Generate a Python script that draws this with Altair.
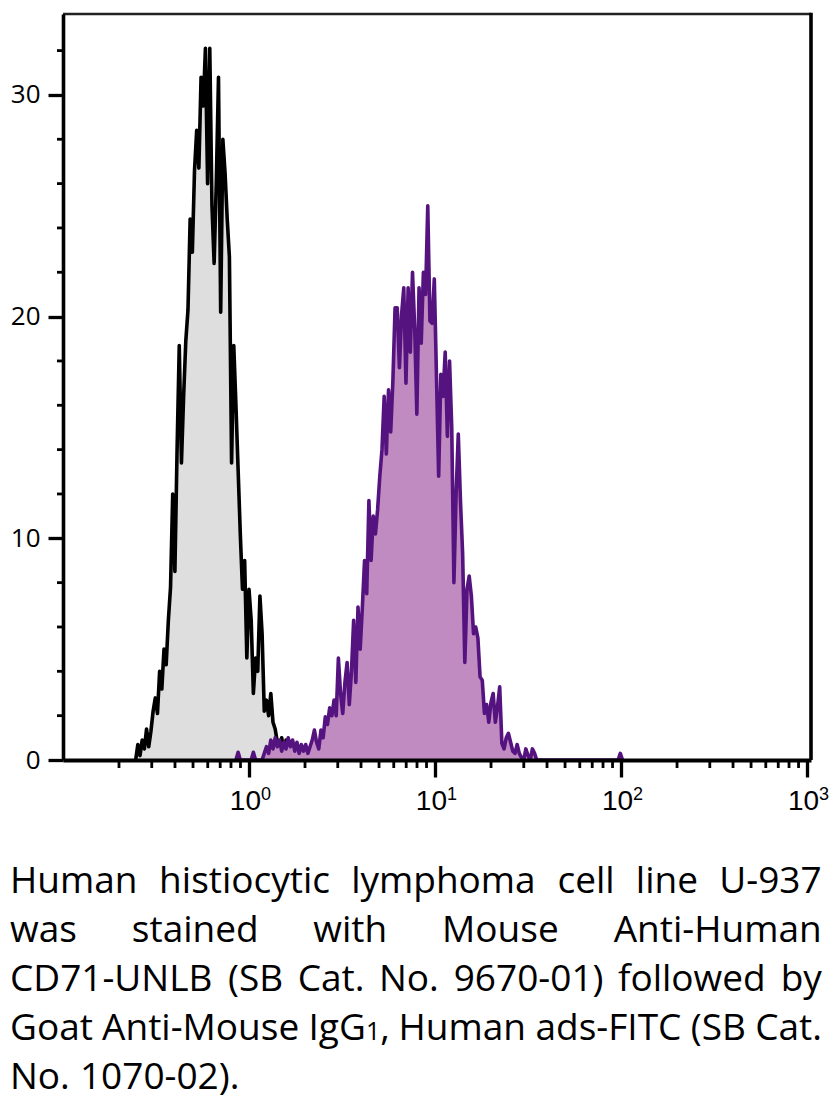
import altair as alt
import pandas as pd

# ---------------- data ----------------
CHANNELS = 1024          # instrument channels spread over 4 decades (0.1 .. 1000)

# isotype / unstained control (grey histogram), every 3rd channel from 100
gray_start, gray_step = 100, 3
gray_counts = [0, 0.7, 0.2, 0.9, 0.5, 1.4, 0.6, 1.3, 2.2, 2.8, 2.1, 4.0, 3.2, 5.0,
               4.3, 6.3, 7.8, 12.0, 8.5, 14.0, 18.7, 13.4, 16.4, 18.9, 20.3, 24.4,
               22.9, 26.6, 28.4, 26.7, 30.8, 29.5, 32.1, 26.0, 32.1, 25.0, 22.4, 26.1,
               30.8, 20.2, 28.0, 26.5, 24.4, 22.7, 13.4, 18.7, 16.0, 13.1, 10.2, 7.7,
               9.0, 4.6, 7.7, 6.3, 3.0, 4.6, 4.0, 7.4, 5.7, 2.2, 2.7, 2.0, 3.0, 1.7,
               1.4, 0.8, 0.5, 1.0, 0.4, 0.9, 0.6, 0.8, 0.3, 0.7, 0.2, 0.5, 0, 0]

# CD71 stained sample (purple histogram), every 3rd channel from 238
purple_start, purple_step = 238, 3
purple_counts = [0, 0.35, 0, 0, 0, 0, 0, 0, 0.35, 0, 0, 0, 0, 0.3, 0.6, 0.3, 0.9, 0.5,
                 1.0, 0.6, 0.9, 0.4, 0.8, 0.5, 1.0, 0.6, 0.9, 0.4, 0.8, 0.3, 0.7, 0.4,
                 0.7, 0.3, 0.6, 0.9, 1.35, 0.8, 0.5, 1.35, 1.0, 1.95, 1.6, 2.35, 2.0,
                 2.7, 2.0, 4.6, 3.0, 2.1, 3.5, 4.4, 2.5, 4.0, 6.3, 3.5, 6.9, 5.0, 6.9,
                 9.0, 7.5, 11.7, 9.0, 11.0, 10.2, 11.3, 12.8, 14.0, 16.4, 13.8, 16.7,
                 14.8, 17.1, 20.4, 20.4, 17.7, 20.1, 21.3, 17.0, 21.3, 18.4, 22.0, 19.5,
                 15.6, 21.3, 18.8, 22.0, 21.0, 25.0, 19.8, 19.7, 21.7, 17.3, 12.8, 17.4,
                 16.4, 18.4, 14.6, 18.0, 15.0, 8.0, 12.0, 14.7, 11.7, 9.3, 4.4, 7.7, 8.3,
                 7.4, 5.7, 6.0, 5.5, 3.75, 3.6, 2.1, 2.5, 1.7, 2.6, 3.0, 1.7, 2.4, 3.3,
                 0.75, 0.5, 1.0, 1.2, 0.8, 0.4, 0.3, 0.7, 0.3, 0.1, 0, 0.5, 0.2, 0, 0.5,
                 0.3, 0, 0]
purple_extra_channels = [764, 767, 770]
purple_extra_counts = [0, 0.3, 0]

x_major = [1, 10, 100, 1000]
x_major_base = ["10", "10", "10", "10"]
x_major_exp = ["0", "1", "2", "3"]
x_minor = [m * 10.0 ** d for d in (-1, 0, 1, 2) for m in range(2, 10)]
y_major = [0, 10, 20, 30]
y_minor = [2, 4, 6, 8, 12, 14, 16, 18, 22, 24, 26, 28, 32]

# caption: each word is a list of (text, is_small) pieces
caption_lines = [
    [[("Human", 0)], [("histiocytic", 0)], [("lymphoma", 0)], [("cell", 0)],
     [("line", 0)], [("U-937", 0)]],
    [[("was", 0)], [("stained", 0)], [("with", 0)], [("Mouse", 0)], [("Anti-Human", 0)]],
    [[("CD71-UNLB", 0)], [("(SB", 0)], [("Cat.", 0)], [("No.", 0)], [("9670-01)", 0)],
     [("followed", 0)], [("by", 0)]],
    [[("Goat", 0)], [("Anti-Mouse", 0)], [("IgG", 0), ("1", 1), (",", 0)], [("Human", 0)],
     [("ads-FITC", 0)], [("(SB", 0)], [("Cat.", 0)]],
    [[("No.", 0)], [("1070-02).", 0)]],
]
caption_justify = [True, True, True, True, False]

# ---------------- layout ----------------
W, H = 748, 746
LEFT, TOP = 63, 14           # page position of the plot area
SVG_H = 1092
CAP_FONT = "Open Sans"
CAP_SIZE = 37
CAP_SMALL = 25
CAP_X0, CAP_X1 = 10, 822
cap_baselines = [893, 942, 991, 1040, 1089]

# approximate Open Sans advance widths (em units), for justification
ADV = {" ": 0.26, "(": 0.296, ")": 0.296, ",": 0.245, "-": 0.322, ".": 0.266,
       "A": 0.633, "B": 0.648, "C": 0.631, "D": 0.729, "F": 0.516, "G": 0.728,
       "H": 0.742, "I": 0.279, "L": 0.533, "M": 0.903, "N": 0.760, "S": 0.549,
       "T": 0.556, "U": 0.738, "a": 0.556, "b": 0.613, "c": 0.476, "d": 0.613,
       "e": 0.561, "f": 0.339, "g": 0.548, "h": 0.614, "i": 0.253, "l": 0.253,
       "m": 0.930, "n": 0.614, "o": 0.604, "p": 0.613, "s": 0.477, "t": 0.353,
       "u": 0.614, "w": 0.781, "y": 0.504}


def text_w(s, size):
    return sum(ADV.get(ch, 0.572) for ch in s) * size


def ch_to_fl(c):
    return 10 ** (-1 + c * 4 / CHANNELS)


gray_df = pd.DataFrame({
    "fl": [ch_to_fl(gray_start + i * gray_step) for i in range(len(gray_counts))],
    "count": gray_counts,
})
p_ch = [purple_start + i * purple_step for i in range(len(purple_counts))] + purple_extra_channels
purple_df = pd.DataFrame({
    "fl": [ch_to_fl(c) for c in p_ch],
    "count": purple_counts + purple_extra_counts,
})

xscale = alt.Scale(type="log", domain=[0.1, 1050], nice=False)
yscale = alt.Scale(domain=[0, 33.65], nice=False, zero=True)

xaxis = alt.Axis(values=x_major, tickSize=17, tickWidth=3.3, tickColor="black",
                 domainColor="black", domainWidth=4.2, labels=False, title=None,
                 grid=False, zindex=1)
yaxis = alt.Axis(values=y_major, tickSize=15, tickWidth=3.3, tickColor="black",
                 domainColor="black", domainWidth=3.6, labelFont="Open Sans",
                 labelFontSize=26, labelColor="black", labelPadding=8,
                 labelFlush=False, title=None, grid=False, zindex=1, format="d")


def hist(df, fill, stroke, sw):
    base = alt.Chart(df).encode(
        x=alt.X("fl:Q", scale=xscale, axis=xaxis),
        y=alt.Y("count:Q", scale=yscale, axis=yaxis),
    )
    area = base.mark_area(color=fill, interpolate="linear", opacity=1)
    line = base.mark_line(color=stroke, strokeWidth=sw, strokeJoin="round",
                          interpolate="linear")
    return area, line


g_area, g_line = hist(gray_df, "#dedede", "#000000", 3.6)
p_area, p_line = hist(purple_df, "#c08bc1", "#55137f", 3.6)

xminor_layer = alt.Chart(pd.DataFrame({"v": x_minor})).mark_rule(
    color="black", strokeWidth=2.8).encode(
    x=alt.X("v:Q", scale=xscale, axis=xaxis),
    y=alt.value(H), y2=alt.value(H + 8))

yminor_layer = alt.Chart(pd.DataFrame({"v": y_minor})).mark_rule(
    color="black", strokeWidth=2.8).encode(
    y=alt.Y("v:Q", scale=yscale, axis=yaxis),
    x=alt.value(-6), x2=alt.value(0))

dummy = alt.Data(values=[{"a": 1}])
top_rule = alt.Chart(dummy).mark_rule(color="#222222", strokeWidth=2.6).encode(
    x=alt.value(0), x2=alt.value(W), y=alt.value(0))
right_rule = alt.Chart(dummy).mark_rule(color="black", strokeWidth=3.6).encode(
    x=alt.value(W), y=alt.value(-1.3), y2=alt.value(H))

xlab_df = pd.DataFrame({"v": x_major, "base": x_major_base, "exp": x_major_exp})
xlab_base = alt.Chart(xlab_df).mark_text(
    align="right", baseline="alphabetic", dx=12, font="Liberation Sans",
    fontSize=28, color="black").encode(
    x=alt.X("v:Q", scale=xscale, axis=xaxis), y=alt.value(810 - TOP), text="base:N")
xlab_exp = alt.Chart(xlab_df).mark_text(
    align="left", baseline="alphabetic", dx=12, font="Liberation Sans",
    fontSize=18, color="black").encode(
    x=alt.X("v:Q", scale=xscale, axis=xaxis), y=alt.value(800 - TOP), text="exp:N")

# justified caption layout
rows = []
for li, words in enumerate(caption_lines):
    widths = [sum(text_w(t, CAP_SMALL if sm else CAP_SIZE) for t, sm in w) for w in words]
    if caption_justify[li] and len(words) > 1:
        gap = (CAP_X1 - CAP_X0 - sum(widths)) / (len(words) - 1)
    else:
        gap = ADV[" "] * CAP_SIZE
    x = CAP_X0
    for w, wd in zip(words, widths):
        xp = x
        for t, sm in w:
            size = CAP_SMALL if sm else CAP_SIZE
            rows.append({"w": t, "x": xp - LEFT, "y": cap_baselines[li] - TOP, "s": size})
            xp += text_w(t, size)
        x += wd + gap

cap_layer = alt.Chart(pd.DataFrame(rows)).mark_text(
    align="left", baseline="alphabetic", font=CAP_FONT, color="black").encode(
    x=alt.X("x:Q", scale=None), y=alt.Y("y:Q", scale=None),
    text="w:N", size=alt.Size("s:Q", scale=None, legend=None))

chart = alt.layer(
    g_area, g_line, p_area, p_line, xminor_layer, yminor_layer,
    top_rule, right_rule, xlab_base, xlab_exp, cap_layer,
).properties(
    width=W, height=H,
    autosize=alt.AutoSizeParams(type="none"),
    padding={"left": LEFT - 8, "top": TOP - 8, "right": 837 - 16 - (LEFT - 8) - W,
             "bottom": SVG_H - (TOP - 8) - H},
).configure_view(stroke=None)

chart.save("out.html", embed_options={"renderer": "svg", "actions": False})
